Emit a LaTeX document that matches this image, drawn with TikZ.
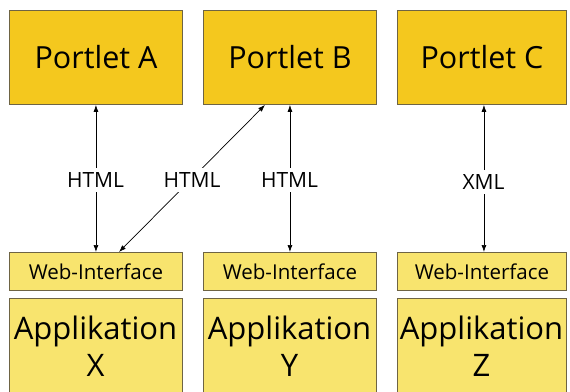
\documentclass[tikz,border=0pt]{standalone}
\usepackage{fontspec}
\setmainfont{Open Sans}
\usetikzlibrary{arrows.meta}
\definecolor{gold}{HTML}{F4C81E}
\definecolor{pale}{HTML}{F8E46E}
\definecolor{edge}{HTML}{6E6444}
\tikzset{
  portlet/.style={draw=edge, line width=0.9pt, fill=gold, minimum width=173pt, minimum height=94pt, inner sep=0pt, font=\fontsize{30.5}{34}\selectfont, anchor=north west},
  webif/.style={draw=edge, line width=0.9pt, fill=pale, minimum width=173pt, minimum height=38pt, inner sep=0pt, font=\fontsize{20.5}{22}\selectfont, anchor=north west},
  appl/.style={draw=edge, line width=0.9pt, fill=pale, minimum width=173pt, minimum height=110pt, inner sep=0pt, anchor=north west},
  appltext/.style={font=\fontsize{31}{37}\selectfont, align=center},
  conn/.style={line width=0.7pt, {Latex[length=7pt,width=5pt]}-{Latex[length=7pt,width=5pt]}},
  lbl/.style={fill=white, inner sep=5pt, font=\fontsize{21}{24}\selectfont}
}
\begin{document}
\begin{tikzpicture}[x=1pt,y=-1pt]
\useasboundingbox (0,0) rectangle (570,391);
\clip (0,0) rectangle (570,391);
\fill[white] (0,0) rectangle (570,391);
\node[portlet] (pa) at (9,10) {Portlet A};
\node[portlet] (pb) at (203,10) {Portlet B};
\node[portlet, minimum width=169pt] (pc) at (397,10) {Portlet C};
\node[webif] (wx) at (9,252) {Web-Interface};
\node[webif] (wy) at (203,252) {Web-Interface};
\node[webif, minimum width=169pt] (wz) at (397,252) {Web-Interface};
\node[appl] (ax) at (9,298) {};
\node[appl] (ay) at (203,298) {};
\node[appl, minimum width=169pt] (az) at (397,298) {};
\node[appltext] (tx) at (95.5,346) {Applikation\\X};
\node[appltext] (ty) at (289.5,346) {Applikation\\Y};
\node[appltext] (tz) at (481.5,346) {Applikation\\Z};
\draw[conn] (pa.south) -- (wx.north);
\draw[conn] (pb.south) -- (wy.north);
\draw[conn] ([xshift=2pt]pc.south) -- ([xshift=2pt]wz.north);
\draw[conn] ([xshift=62pt]pb.south west) -- ([xshift=110pt]wx.north west);
\node[lbl] (l1) at (95.5,180) {HTML};
\node[lbl] (l2) at (192,180) {HTML};
\node[lbl] (l3) at (289.5,180) {HTML};
\node[lbl] (l4) at (483.5,182) {XML};
\end{tikzpicture}
\end{document}
